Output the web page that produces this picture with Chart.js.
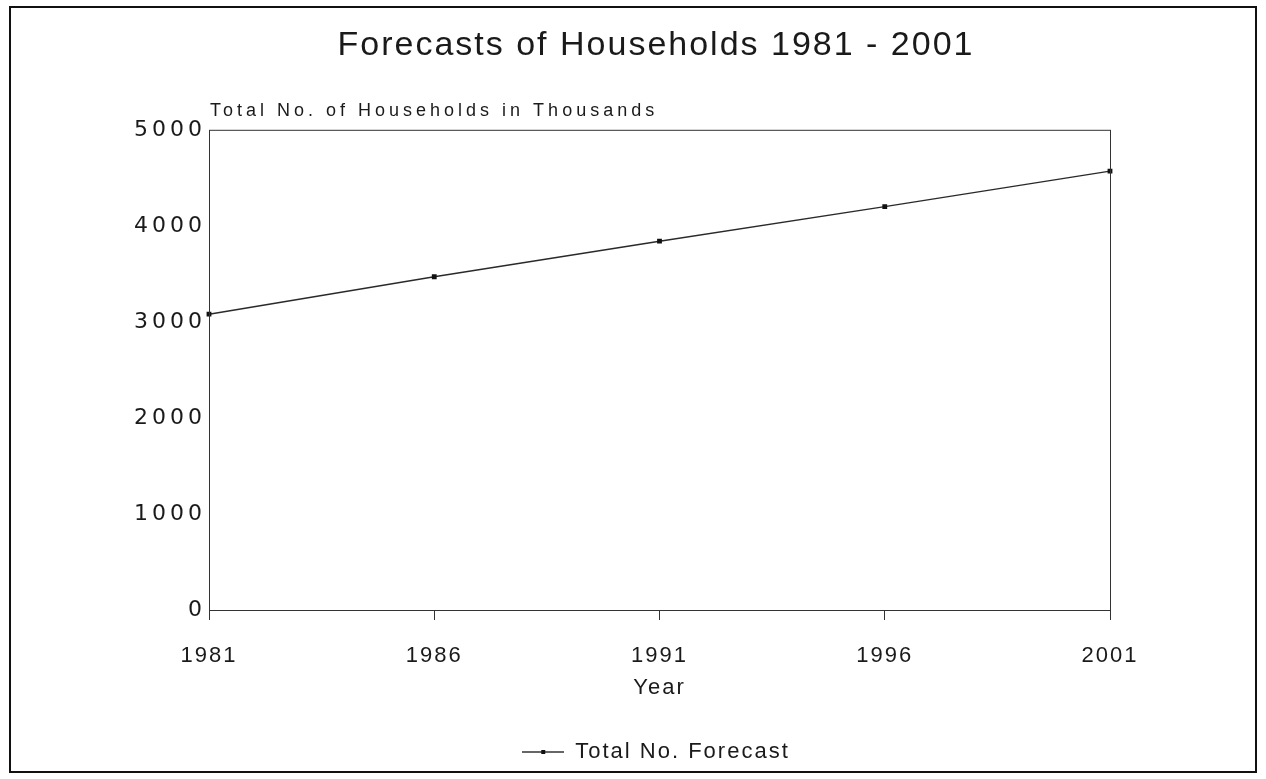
<!DOCTYPE html>
<html>
<head>
<meta charset="utf-8">
<script src="https://cdn.jsdelivr.net/npm/chart.js@4"></script>
<style>
html,body{margin:0;padding:0;background:#fff;}
</style>
</head>
<body>
<canvas id="c" width="1266" height="779"></canvas>
<script>
// ---- data ----
const years = ['1981', '1986', '1991', '1996', '2001'];
const households = [3080, 3470, 3840, 4200, 4570];
const yTickValues = [0, 1000, 2000, 3000, 4000, 5000];
const chartTitle = 'Forecasts of Households 1981 - 2001';
const yAxisLabel = 'Total No. of Households in Thousands';
const xAxisLabel = 'Year';
const seriesName = 'Total No. Forecast';

const INK = '#1a1a1a';
const FONT = '"Liberation Sans", Arial, Helvetica, sans-serif';

// legend symbol: line with small square
const legendSym = document.createElement('canvas');
legendSym.width = 42; legendSym.height = 10;
(function(){
  const g = legendSym.getContext('2d');
  g.strokeStyle = '#333'; g.lineWidth = 1.3;
  g.beginPath(); g.moveTo(0, 5); g.lineTo(42, 5); g.stroke();
  g.fillStyle = '#111'; g.fillRect(19, 3, 4, 4);
})();

const decor = {
  id: 'decor',
  beforeLayout(chart) {
    chart.ctx.letterSpacing = '2px';
  },
  afterLayout(chart) {
    const ys = chart.scales.y;
    if (ys && !ys._spaced) {
      const orig = ys.drawLabels.bind(ys);
      ys.drawLabels = function(area) {
        const ctx = this.ctx;
        const prev = ctx.letterSpacing;
        ctx.letterSpacing = '4px';
        orig(area);
        ctx.letterSpacing = prev;
      };
      ys._spaced = true;
    }
  },
  beforeDraw(chart) {
    const ctx = chart.ctx;
    ctx.save();
    ctx.fillStyle = '#fff';
    ctx.fillRect(0, 0, chart.width, chart.height);
    ctx.strokeStyle = '#111';
    ctx.lineWidth = 2;
    ctx.strokeRect(10, 7, 1246, 765);
    ctx.restore();
    ctx.letterSpacing = '2px';
  },
  afterDraw(chart) {
    const ctx = chart.ctx;
    const a = chart.chartArea;
    ctx.save();
    ctx.strokeStyle = '#333';
    ctx.lineWidth = 1;
    ctx.strokeRect(a.left + 0.5, a.top + 0.5, a.right - a.left, a.bottom - a.top);
    ctx.letterSpacing = '4px';
    ctx.fillStyle = INK;
    ctx.font = '18px ' + FONT;
    ctx.textAlign = 'left';
    ctx.textBaseline = 'middle';
    ctx.fillText(yAxisLabel, a.left + 1, a.top - 19);
    ctx.restore();
  }
};

new Chart(document.getElementById('c'), {
  type: 'line',
  data: {
    labels: years,
    datasets: [{
      label: seriesName,
      data: households,
      borderColor: '#2a2a2a',
      borderWidth: 1.4,
      backgroundColor: '#111',
      pointStyle: 'rect',
      pointRadius: 3.4,
      pointBorderWidth: 0,
      pointBackgroundColor: '#111',
      tension: 0,
      fill: false
    }]
  },
  options: {
    responsive: false,
    animation: false,
    layout: { padding: { left: 46, right: 0, top: 0, bottom: 6 } },
    plugins: {
      title: {
        display: true,
        text: chartTitle,
        color: INK,
        font: { family: FONT, size: 34, weight: 'normal', lineHeight: 1.2 },
        padding: { top: 25, bottom: 64 }
      },
      legend: {
        display: true,
        position: 'bottom',
        labels: {
          color: INK,
          font: { family: FONT, size: 22 },
          usePointStyle: true,
          pointStyleWidth: 42,
          padding: 10,
          generateLabels(chart) {
            return [{
              text: seriesName,
              pointStyle: legendSym,
              fillStyle: '#111',
              strokeStyle: '#111',
              lineWidth: 0,
              datasetIndex: 0,
              fontColor: INK
            }];
          }
        }
      },
      tooltip: { enabled: false }
    },
    scales: {
      x: {
        type: 'category',
        offset: false,
        border: { display: false },
        grid: { display: true, drawOnChartArea: false, drawTicks: true, tickLength: 10, color: '#333', lineWidth: 1 },
        ticks: { color: INK, font: { family: FONT, size: 22 }, padding: 23, maxRotation: 0, autoSkip: false },
        title: { display: true, text: xAxisLabel, color: INK, font: { family: FONT, size: 22, lineHeight: 1.2 }, padding: { top: 0, bottom: 30 } },
        afterFit(scale) { scale.height = 121; }
      },
      y: {
        min: 0,
        max: 5000,
        border: { display: false },
        grid: { display: false, drawTicks: false },
        afterBuildTicks(scale) { scale.ticks = yTickValues.map(v => ({ value: v })); },
        ticks: { color: INK, font: { family: '"DejaVu Sans", sans-serif', size: 22 }, padding: 3, callback: (v) => String(v) },
        afterFit(scale) { scale.width = 163; }
      },
      yRight: {
        position: 'right',
        display: true,
        min: 0,
        max: 5000,
        border: { display: false },
        grid: { display: false, drawTicks: false },
        ticks: { display: false },
        afterFit(scale) { scale.width = 156; }
      }
    }
  },
  plugins: [decor]
});
</script>
</body>
</html>
